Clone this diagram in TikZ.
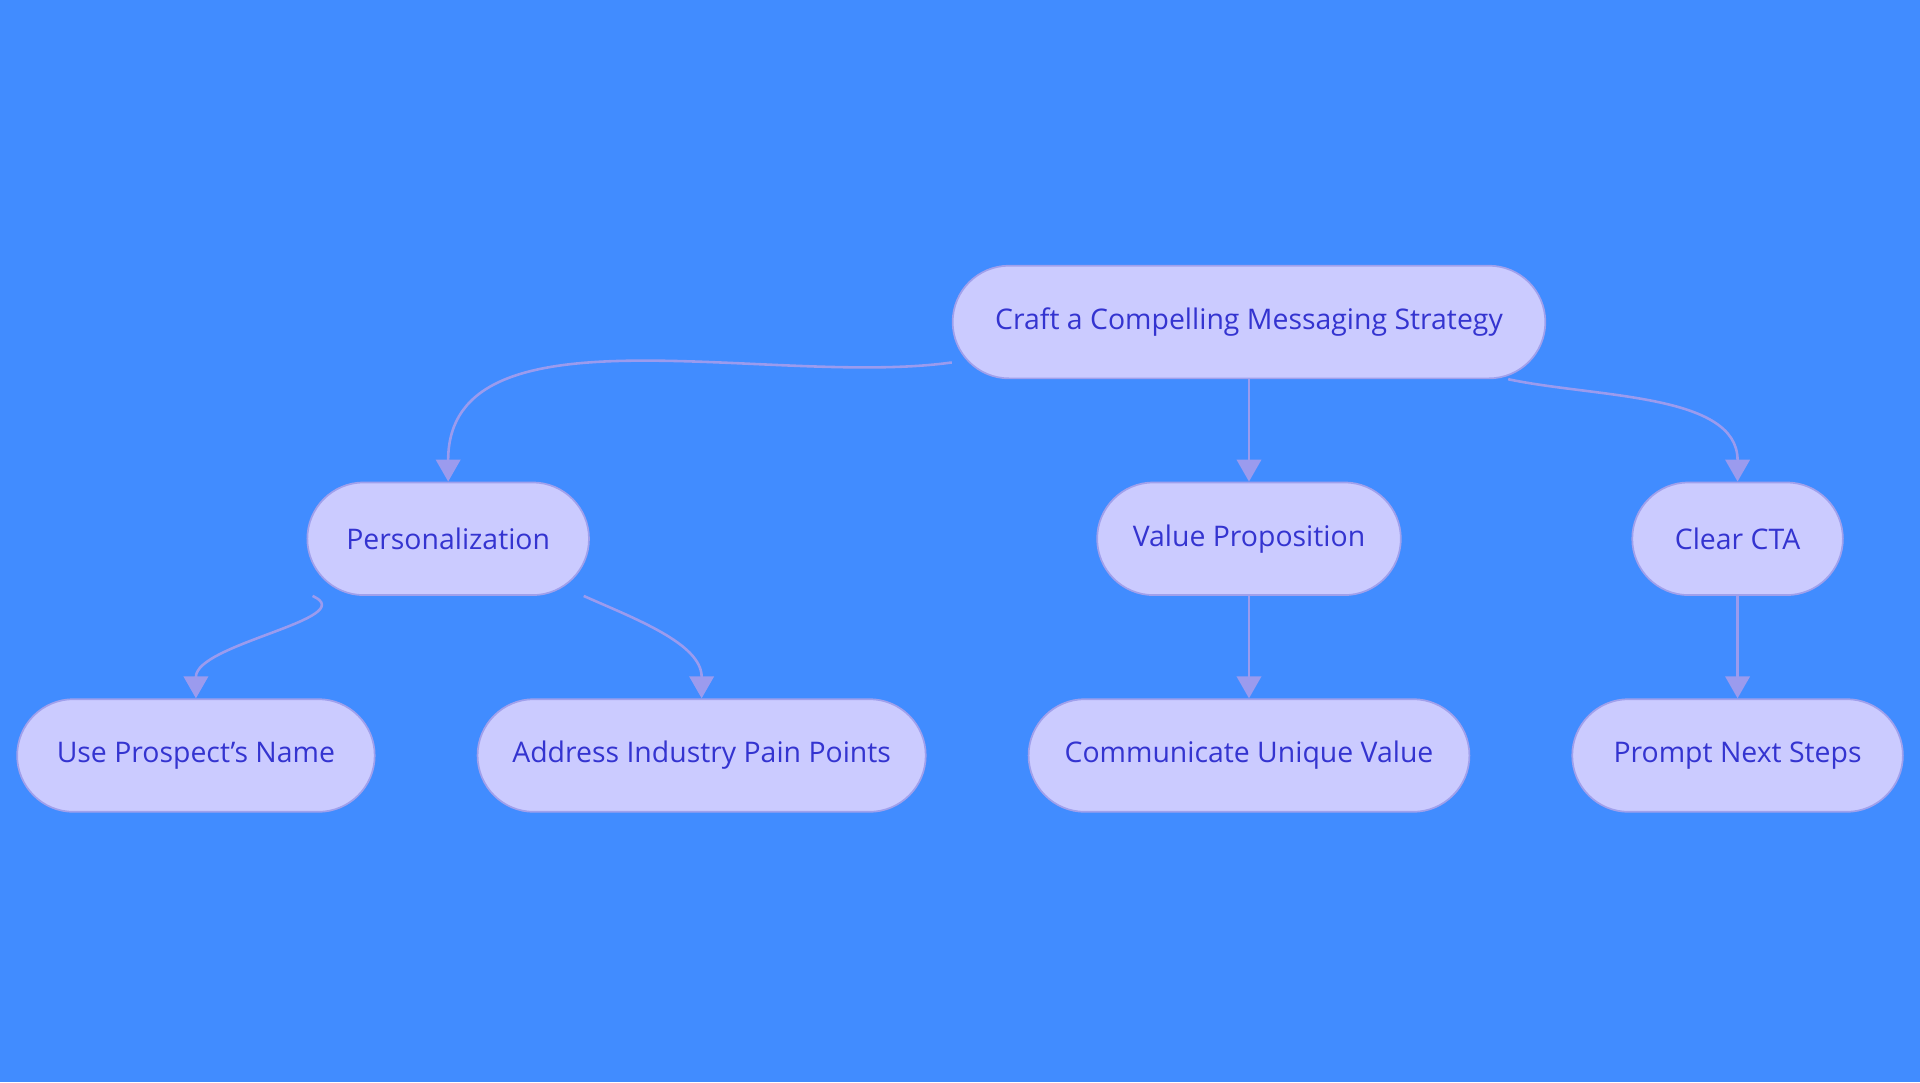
\documentclass[tikz,border=0pt]{standalone}
\usepackage{fontspec}
\setmainfont{Open Sans}
\usetikzlibrary{arrows.meta}
\usetikzlibrary{calc}
\definecolor{bgblue}{HTML}{418CFF}
\definecolor{boxfill}{HTML}{CBCBFF}
\definecolor{boxline}{HTML}{A0A0EC}
\definecolor{boxtext}{HTML}{3434D0}
\definecolor{linkcol}{HTML}{9B9BEE}

\begin{document}
\begin{tikzpicture}[
  box/.style={
    rectangle,
    rounded corners=0.46cm,
    draw=boxline,
    fill=boxfill,
    text=boxtext,
    font=\fontsize{6.6}{8}\selectfont,
    minimum height=0.92cm,
    minimum width=#1},
  link/.style={
    draw=linkcol,
    line width=0.6pt,
    -{Triangle[length=0.18cm,width=0.2cm]}}]
  % background
  \fill[bgblue] (0,0) rectangle (15.68,-8.84);
  \useasboundingbox (0,0) rectangle (15.68,-8.84);
  % top node
  \node[box=4.84cm] (craft) at (10.20,-2.63) {Craft a Compelling Messaging Strategy};
  % middle row
  \node[box=2.30cm] (pers) at (3.66,-4.40) {Personalization};
  \node[box=2.48cm] (value) at (10.20,-4.40) {Value Proposition};
  \node[box=1.72cm] (cta) at (14.19,-4.40) {Clear CTA};
  % bottom row
  \node[box=2.92cm] (name) at (1.60,-6.17) {Use Prospect’s Name};
  \node[box=3.66cm] (pain) at (5.73,-6.17) {Address Industry Pain Points};
  \node[box=3.60cm] (unique) at (10.20,-6.17) {Communicate Unique Value};
  \node[box=2.70cm] (steps) at (14.19,-6.17) {Prompt Next Steps};
  % links from the top node
  \draw[link] ($(craft.west)+(0,-0.33)$) to[out=188,in=90,looseness=0.9] (pers.north);
  \draw[link] (craft.south) -- (value.north);
  \draw[link] ($(craft.south east)+(-0.31,0)$) to[out=-12,in=90,looseness=0.9] (cta.north);
  % links to the bottom row
  \draw[link] ($(pers.south west)+(0.05,0)$) to[out=-24,in=90,looseness=0.9] (name.north);
  \draw[link] ($(pers.south east)+(-0.05,0)$) to[out=-24,in=90,looseness=0.9] (pain.north);
  \draw[link] (value.south) -- (unique.north);
  \draw[link] (cta.south) -- (steps.north);
\end{tikzpicture}
\end{document}
